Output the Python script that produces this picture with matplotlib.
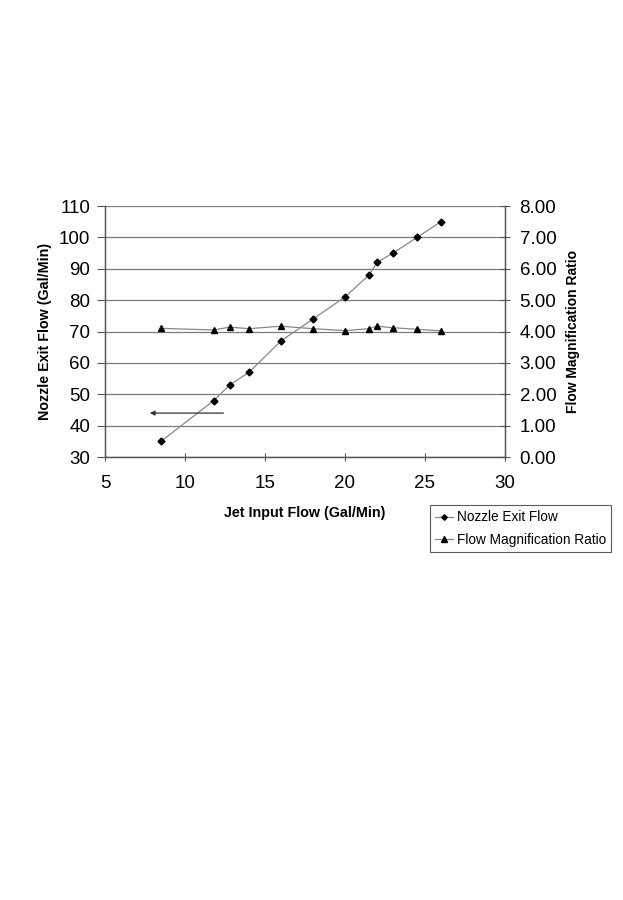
import matplotlib
matplotlib.use("Agg")
import matplotlib.pyplot as plt

plt.rcParams['font.family'] = ['Liberation Sans', 'DejaVu Sans']

jet_flow = [8.5, 11.8, 12.8, 14.0, 16.0, 18.0, 20.0, 21.5, 22.0, 23.0, 24.5, 26.0]
nozzle_flow = [35, 48, 53, 57, 67, 74, 81, 88, 92, 95, 100, 105]
mag_ratio = [4.10, 4.05, 4.14, 4.09, 4.17, 4.09, 4.03, 4.09, 4.17, 4.12, 4.07, 4.02]

left_ticks = [30, 40, 50, 60, 70, 80, 90, 100, 110]
right_ticks = [0, 1, 2, 3, 4, 5, 6, 7, 8]
x_ticks = [5, 10, 15, 20, 25, 30]

fig = plt.figure(figsize=(6.23, 9.0), dpi=100)
ax = fig.add_axes([0.1685, 0.4922, 0.6421, 0.2789])
ax2 = ax.twinx()

ax.set_xlim(5, 30)
ax.set_ylim(30, 110)
ax2.set_ylim(0, 8)
ax.set_xticks(x_ticks)
ax.set_yticks(left_ticks)
ax2.set_yticks(right_ticks)
ax2.set_yticklabels([f"{v:.2f}" for v in right_ticks])

ax.grid(axis='y', color='#7a7a7a', linewidth=0.9)
ax.set_axisbelow(True)

for a in (ax, ax2):
    a.spines['top'].set_visible(False)
    for s in ('left', 'right', 'bottom'):
        a.spines[s].set_color('#555555')
        a.spines[s].set_linewidth(0.9)

ax.tick_params(axis='y', direction='out', length=6, width=0.8, color='#555555', labelsize=13.5, pad=4.5)
ax.tick_params(axis='x', direction='inout', length=6, width=0.8, color='#555555', labelsize=13.5, pad=10)
ax2.tick_params(axis='y', direction='inout', length=7, width=0.8, color='#555555', labelsize=13.5, pad=7)

l1, = ax.plot(jet_flow, nozzle_flow, color='#888888', linewidth=0.9,
              marker='D', markersize=3.5, markerfacecolor='black', markeredgecolor='black',
              label='Nozzle Exit Flow')
l2, = ax2.plot(jet_flow, mag_ratio, color='#888888', linewidth=0.9,
               marker='^', markersize=5, markerfacecolor='black', markeredgecolor='black',
               label='Flow Magnification Ratio')

ax.annotate('', xy=(7.8, 44), xytext=(12.4, 44),
            arrowprops=dict(arrowstyle='-|>', color='#333333', lw=0.9,
                            mutation_scale=7, shrinkA=0, shrinkB=0))

ax.set_xlabel('Jet Input Flow (Gal/Min)', fontsize=10.3, fontweight='bold')
ax.set_ylabel('Nozzle Exit Flow (Gal/Min)', fontsize=10.3, fontweight='bold')
ax2.set_ylabel('Flow Magnification Ratio', fontsize=10, fontweight='bold')
ax.xaxis.set_label_coords(0.5, (457 - 513) / 251)
ax.xaxis.label.set_va('center')
ax.yaxis.set_label_coords((45 - 105) / 400, 0.5)
ax.yaxis.label.set_va('center')
ax2.yaxis.set_label_coords((573 - 105) / 400, 0.5)
ax2.yaxis.label.set_va('center')

leg = fig.legend(handles=[l1, l2], loc='upper left',
                 bbox_to_anchor=(430 / 623, 1 - 505 / 900),
                 fontsize=9.8, frameon=True, fancybox=False, shadow=False,
                 borderaxespad=0, handlelength=1.3, handletextpad=0.25,
                 labelspacing=0.6, borderpad=0.4, markerscale=0.8)
leg.get_frame().set_edgecolor('#333333')
leg.get_frame().set_linewidth(0.8)
leg._legend_box.align = 'left'

fig.canvas.draw()
# tighten right padding of legend frame to match reference box
fig.savefig('out.png', dpi=100, facecolor='white')
